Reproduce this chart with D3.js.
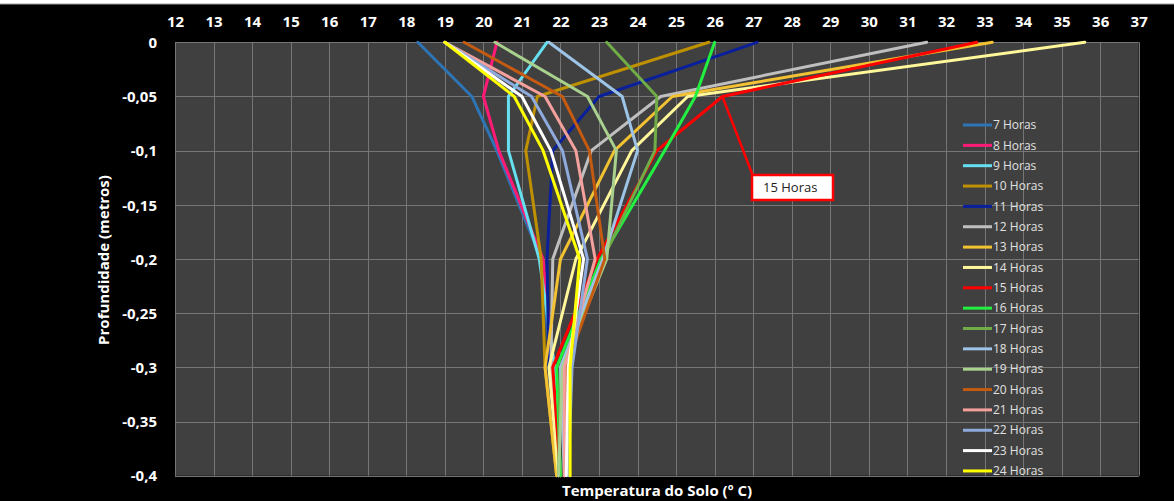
<!DOCTYPE html>
<html>
<head>
<meta charset="utf-8">
<script src="https://cdn.jsdelivr.net/npm/d3@7"></script>
<style>
  html, body { margin: 0; padding: 0; background: #000; }
  svg { display: block; }
</style>
</head>
<body>
<svg id="chart" width="1174" height="501"></svg>
<script>
// Soil temperature profiles: depth (m) vs temperature (ºC), one line per hour
const depths = [0, -0.05, -0.1, -0.2, -0.3, -0.4];
const hourLabels = ["7 Horas", "8 Horas", "9 Horas", "10 Horas", "11 Horas", "12 Horas",
  "13 Horas", "14 Horas", "15 Horas", "16 Horas", "17 Horas", "18 Horas",
  "19 Horas", "20 Horas", "21 Horas", "22 Horas", "23 Horas", "24 Horas"];
const hourColors = ["#2e75b6", "#ff1a75", "#66e0f0", "#bf9000", "#0a1f9c", "#bfbfbf",
  "#f2c232", "#fff799", "#ff0000", "#22f040", "#70ad47", "#9dc3e6",
  "#a9d18e", "#c55a11", "#f4a09c", "#8faadc", "#ffffff", "#ffff00"];

const h07 = [18.3, 19.7, 20.35, 21.5, 21.75, 21.95];
const h08 = [20.35, 20.0, 20.4, 21.55, 21.8, 22.0];
const h09 = [21.65, 20.65, 20.65, 21.45, 21.85, 22.0];
const h10 = [25.85, 21.4, 21.1, 21.5, 21.6, 21.9];
const h11 = [27.1, 23.0, 21.8, 21.65, 21.7, 21.95];
const h12 = [31.5, 24.6, 22.8, 21.8, 21.75, 21.95];
const h13 = [33.2, 24.9, 23.4, 22.0, 21.6, 21.9];
const h14 = [35.6, 25.3, 23.85, 22.4, 21.7, 21.95];
const h15 = [32.8, 26.2, 24.5, 22.95, 21.8, 22.0];
const h16 = [26.0, 25.5, 24.7, 23.05, 21.9, 22.0];
const h17 = [23.2, 24.5, 24.45, 23.1, 22.0, 21.95];
const h18 = [21.7, 23.6, 24.0, 23.1, 22.0, 22.1];
const h19 = [20.3, 22.7, 23.45, 23.2, 22.05, 21.95];
const h20 = [19.5, 22.05, 22.75, 23.15, 22.15, 22.1];
const h21 = [19.0, 21.6, 22.4, 22.9, 22.1, 22.1];
const h22 = [19.0, 21.25, 22.05, 22.7, 22.3, 22.2];
const h23 = [19.0, 21.0, 21.75, 22.6, 22.2, 22.15];
const h24 = [19.0, 20.8, 21.55, 22.5, 22.25, 22.25];

const hourTemps = [h07, h08, h09, h10, h11, h12, h13, h14, h15, h16, h17, h18,
  h19, h20, h21, h22, h23, h24];

const xTicks = d3.range(12, 38, 1);
const yTicks = [0, -0.05, -0.1, -0.15, -0.2, -0.25, -0.3, -0.35, -0.4];

const svg = d3.select("#chart");
const W = 1174, H = 501;
const plot = { left: 175, right: 1138.7, top: 42.3, bottom: 475.7 };

// Frame
svg.append("rect").attr("width", W).attr("height", H).attr("fill", "#000");
svg.append("rect").attr("x", 0).attr("y", 0).attr("width", W).attr("height", 4).attr("fill", "#ffffff");
svg.append("line").attr("x1", 0).attr("x2", W).attr("y1", 4).attr("y2", 4)
  .attr("stroke", "#a0a0a0").attr("stroke-width", 1);

const x = d3.scaleLinear().domain([12, 37]).range([plot.left, plot.right]);
const y = d3.scaleLinear().domain([0, -0.4]).range([plot.top, plot.bottom]);

// Plot area
svg.append("rect")
  .attr("x", plot.left).attr("y", plot.top)
  .attr("width", plot.right - plot.left).attr("height", plot.bottom - plot.top)
  .attr("fill", "#404040");

// Gridlines
const grid = svg.append("g").attr("stroke", "#767676").attr("stroke-width", 1);
grid.selectAll("line.v").data(xTicks).join("line").attr("class", "v")
  .attr("x1", d => Math.round(x(d)) + 0.5).attr("x2", d => Math.round(x(d)) + 0.5)
  .attr("y1", plot.top).attr("y2", plot.bottom);
grid.selectAll("line.h").data(yTicks).join("line").attr("class", "h")
  .attr("x1", plot.left).attr("x2", plot.right)
  .attr("y1", d => Math.round(y(d)) + 0.5).attr("y2", d => Math.round(y(d)) + 0.5);

// Axes (labels only)
const fontFam = "'Open Sans', 'DejaVu Sans', sans-serif";
const xAxis = svg.append("g")
  .attr("transform", `translate(0,${plot.top - 12})`)
  .call(d3.axisTop(x).tickValues(xTicks).tickSize(0).tickFormat(d3.format("d")));
xAxis.select(".domain").remove();
xAxis.selectAll("text")
  .attr("fill", "#ffffff").attr("font-family", fontFam).attr("font-size", 15)
  .attr("font-weight", "bold").attr("dy", "0");

const yAxis = svg.append("g")
  .attr("transform", `translate(${plot.left - 18},0)`)
  .call(d3.axisLeft(y).tickValues(yTicks).tickSize(0)
    .tickFormat(d => d === 0 ? "0" : String(+d.toFixed(2)).replace(".", ",")));
yAxis.select(".domain").remove();
yAxis.selectAll("text")
  .attr("fill", "#ffffff").attr("font-family", fontFam).attr("font-size", 15)
  .attr("font-weight", "bold").attr("x", 0).attr("dy", "0.35em");

// Axis titles
svg.append("text")
  .attr("transform", `translate(109,260) rotate(-90)`)
  .attr("text-anchor", "middle")
  .attr("fill", "#ffffff").attr("font-family", fontFam).attr("font-size", 15)
  .attr("font-weight", "bold")
  .text("Profundidade (metros)");
svg.append("text")
  .attr("x", 657).attr("y", 496)
  .attr("text-anchor", "middle")
  .attr("fill", "#ffffff").attr("font-family", fontFam).attr("font-size", 15)
  .attr("font-weight", "bold")
  .text("Temperatura do Solo (º C)");

// Profile lines
const line = d3.line()
  .x(d => x(d.t))
  .y(d => y(d.z));

const series = hourTemps.map((temps, i) => ({
  name: hourLabels[i],
  color: hourColors[i],
  points: temps.map((t, j) => ({ t, z: depths[j] }))
}));

svg.append("g").selectAll("path").data(series).join("path")
  .attr("d", d => line(d.points))
  .attr("fill", "none")
  .attr("stroke", d => d.color)
  .attr("stroke-width", 3)
  .attr("stroke-linejoin", "round")
  .attr("stroke-linecap", "round");

// Callout for the 15 Horas profile
const callIdx = hourLabels.indexOf("15 Horas");
const anchor = series[callIdx].points[1];
const box = { x: 752, y: 175, w: 81, h: 25 };
svg.append("line")
  .attr("x1", x(anchor.t)).attr("y1", y(anchor.z))
  .attr("x2", box.x + 1).attr("y2", box.y + 1)
  .attr("stroke", hourColors[callIdx]).attr("stroke-width", 2.5);
svg.append("rect")
  .attr("x", box.x).attr("y", box.y).attr("width", box.w).attr("height", box.h)
  .attr("fill", "#ffffff").attr("stroke", hourColors[callIdx]).attr("stroke-width", 2.5);
svg.append("text")
  .attr("x", box.x + 11).attr("y", box.y + 17)
  .attr("fill", "#222").attr("font-family", fontFam).attr("font-size", 13)
  .text("15 Horas");

// Legend
const legend = svg.append("g").attr("transform", "translate(963,125)");
const item = legend.selectAll("g").data(series).join("g")
  .attr("transform", (d, i) => `translate(0,${i * 20.35})`);
item.append("line")
  .attr("x1", 0).attr("x2", 29).attr("y1", 0).attr("y2", 0)
  .attr("stroke", d => d.color).attr("stroke-width", 3);
item.append("text")
  .attr("x", 30).attr("y", 0).attr("dy", "0.35em")
  .attr("fill", "#e0e0e0").attr("font-family", fontFam).attr("font-size", 12)
  .text(d => d.name);
</script>
</body>
</html>
